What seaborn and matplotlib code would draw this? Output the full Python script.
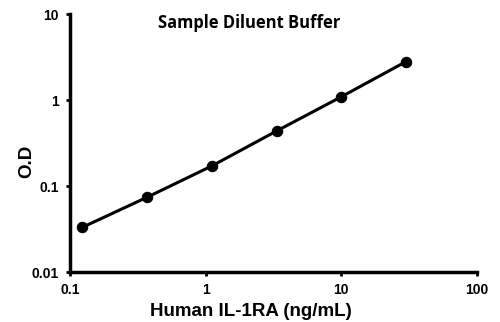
import matplotlib
matplotlib.use("Agg")
import matplotlib.pyplot as plt
import seaborn as sns
import pandas as pd
from matplotlib.ticker import FixedLocator, FixedFormatter, NullLocator

# Standard curve: concentration (ng/mL) vs optical density
concentration = [0.123, 0.37, 1.11, 3.33, 10.0, 30.0]
optical_density = [0.033, 0.074, 0.171, 0.436, 1.09, 2.8]

x_ticks = [0.1, 1, 10, 100]
x_tick_labels = ["0.1", "1", "10", "100"]
y_ticks = [0.01, 0.1, 1, 10]
y_tick_labels = ["0.01", "0.1", "1", "10"]

sns.set_theme(style="white")
plt.rcParams["font.family"] = ["Liberation Sans", "DejaVu Sans"]

df = pd.DataFrame({"conc": concentration, "od": optical_density})

W, H = 500, 322
fig = plt.figure(figsize=(W / 100, H / 100), dpi=100)
ax = fig.add_axes([70 / W, 1 - 272 / H, 407 / W, 258 / H])

sns.lineplot(data=df, x="conc", y="od", ax=ax, color="black", linewidth=2.2,
             marker="o", markersize=7.5, markeredgecolor="black",
             markerfacecolor="black")

ax.set_xscale("log")
ax.set_yscale("log")
ax.set_xlim(0.1, 100)
ax.set_ylim(0.01, 10)

ax.xaxis.set_major_locator(FixedLocator(x_ticks))
ax.xaxis.set_major_formatter(FixedFormatter(x_tick_labels))
ax.yaxis.set_major_locator(FixedLocator(y_ticks))
ax.yaxis.set_major_formatter(FixedFormatter(y_tick_labels))
ax.xaxis.set_minor_locator(NullLocator())
ax.yaxis.set_minor_locator(NullLocator())

for side in ("top", "right"):
    ax.spines[side].set_visible(False)
for side in ("left", "bottom"):
    ax.spines[side].set_color("black")
    ax.spines[side].set_linewidth(2.5)

ax.tick_params(axis="both", which="major", direction="out", length=3,
               width=2, color="black", labelsize=10, pad=5, bottom=True, left=True)
for lbl in ax.get_xticklabels() + ax.get_yticklabels():
    lbl.set_fontweight("bold")
    lbl.set_color("black")

ax.set_xlabel("")
ax.set_ylabel("")
fig.text(251 / W, 1 - 311 / H, "Human IL-1RA (ng/mL)", ha="center", va="center",
         fontsize=13.5, fontweight="bold", color="black")
fig.text(26.5 / W, 1 - 161 / H, "O.D", ha="center", va="center", rotation=90,
         fontsize=13.5, fontweight="bold", color="black")

fig.text(249 / W, 1 - 23 / H, "Sample Diluent Buffer", ha="center", va="center",
         fontsize=11.9, fontweight="bold", color="black",
         family=["Open Sans", "DejaVu Sans"])

fig.savefig("out.png", dpi=100, facecolor="white")
